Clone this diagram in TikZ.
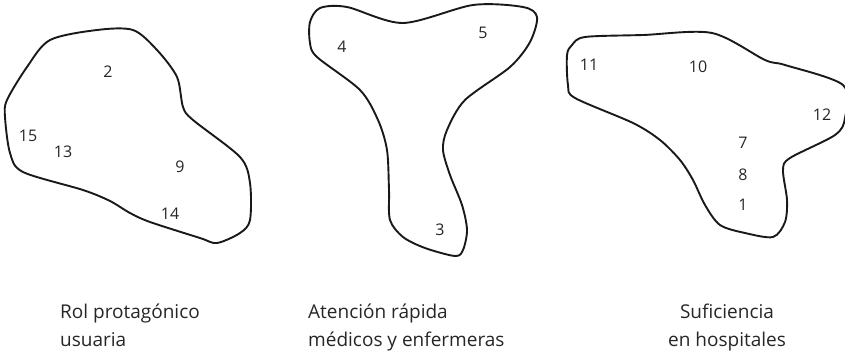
\documentclass[tikz,border=0pt]{standalone}
\usepackage{fontspec}
\setmainfont{Open Sans}
\begin{document}
\begin{tikzpicture}[x=1pt,y=-1pt,
  blob/.style={draw=black!90,line width=1.9pt,line join=round},
  num/.style={font=\fontsize{16}{18}\selectfont,inner sep=0pt,text=black!85},
  captext/.style={font=\fontsize{19}{22}\selectfont,inner sep=0pt,anchor=base west,text=black!85}]
\useasboundingbox (0,0) rectangle (845,359);
% shape 1
\draw[blob] plot[smooth cycle,tension=0.5] coordinates {
 (50,40) (97,30) (133,30) (157,50) (177,77) (183,107) (193,120) (240,157)
 (250,183) (250,220) (240,233) (217,243) (200,238) (150,222) (130,213) (110,201) (83,190)
 (23,172) (10,153) (5,117) (7,100) (27,67)};
\node[num] (n2) at (108,72) {2};
\node[num] (n15) at (28,136) {15};
\node[num] (n13) at (63,152) {13};
\node[num] (n9) at (180,167) {9};
\node[num] (n14) at (170,214) {14};
% shape 2
\draw[blob] plot[smooth cycle,tension=0.5] coordinates {
 (347,7) (403,23) (473,5) (523,7) (537,17) (530,42) (510,67) (465,100)
 (447,130) (443,150) (450,175) (462,205) (467,230) (463,250) (455,256)
 (425,248) (403,237) (390,220) (389,190) (387,150) (378,120) (360,90)
 (317,57) (310,43) (310,22) (320,8)};
\node[num] (n4) at (342,47) {4};
\node[num] (n5) at (483,33) {5};
\node[num] (n3) at (440,230) {3};
% shape 3
\draw[blob] plot[smooth cycle,tension=0.5] coordinates {
 (585,37) (643,35) (712,33) (765,60) (785,65) (843,85) (845,118) (835,135)
 (790,158) (783,170) (787,200) (785,222) (773,237) (745,233) (720,225)
 (705,205) (693,180) (680,160) (660,140) (633,123) (575,98) (568,85) (567,55) (572,45)};
\node[num] (n11) at (589,65) {11};
\node[num] (n10) at (698,67) {10};
\node[num] (n12) at (822,115) {12};
\node[num] (n7) at (743,143) {7};
\node[num] (n8) at (743,175) {8};
\node[num] (n1) at (743,205) {1};
% captions
\node[captext] (c1a) at (60,318) {Rol protagónico};
\node[captext] (c1b) at (60,346) {usuaria};
\node[captext] (c2a) at (308,318) {Atención rápida};
\node[captext] (c2b) at (308,346) {médicos y enfermeras};
\node[captext,anchor=base] (c3a) at (727,318) {Suficiencia};
\node[captext,anchor=base] (c3b) at (727,346) {en hospitales};
\end{tikzpicture}
\end{document}
